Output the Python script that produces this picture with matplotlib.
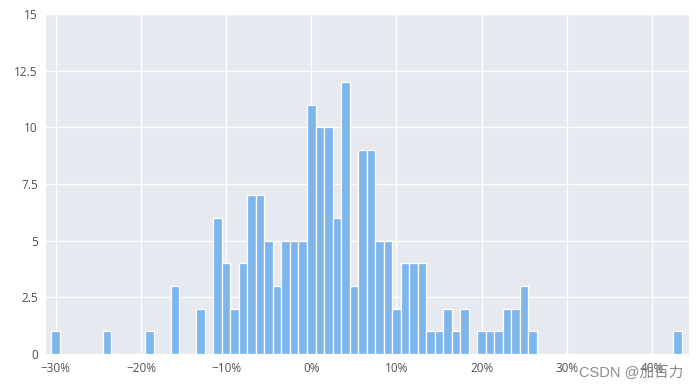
import matplotlib

matplotlib.use("Agg")
import matplotlib.pyplot as plt
from matplotlib.ticker import FuncFormatter

# bin centres (percent change) and counts
bin_centers = [
    -30, -24, -19, -16, -13,
    -11, -10, -9, -8, -7, -6, -5, -4, -3, -2, -1,
    0, 1, 2, 3, 4, 5, 6, 7, 8, 9,
    10, 11, 12, 13, 14, 15, 16, 17, 18,
    20, 21, 22, 23, 24, 25, 26,
    43,
]
counts = [
    1, 1, 1, 3, 2,
    6, 4, 2, 4, 7, 7, 5, 3, 5, 5, 5,
    11, 10, 10, 6, 12, 3, 9, 9, 5, 5,
    2, 4, 4, 4, 1, 1, 2, 1, 2,
    1, 1, 1, 2, 2, 3, 1,
    1,
]
x_ticks = [-30, -20, -10, 0, 10, 20, 30, 40]
y_ticks = [0, 2.5, 5, 7.5, 10, 12.5, 15]
y_tick_labels = ["0", "2.5", "5", "7.5", "10", "12.5", "15"]

plt.rcParams["font.family"] = ["Open Sans", "Noto Sans CJK SC", "DejaVu Sans"]

fig = plt.figure(figsize=(6.97, 3.90), dpi=100)
ax = fig.add_axes([0.066, 0.0923, 0.9225, 0.8717])
ax.set_facecolor("#E6EAF0")

ax.bar(bin_centers, counts, width=1.0, color="#7EB5EA",
       edgecolor="white", linewidth=0.9, zorder=3)

ax.set_xlim(-31.14, 44.34)
ax.set_ylim(0, 15)
ax.set_xticks(x_ticks)
ax.xaxis.set_major_formatter(FuncFormatter(lambda v, _: f"{int(v)}%".replace("-", "\u2212")))
ax.set_yticks(y_ticks)
ax.set_yticklabels(y_tick_labels)
ax.grid(color="white", linewidth=1.0, zorder=0)
ax.set_axisbelow(True)
for s in ax.spines.values():
    s.set_visible(False)
ax.tick_params(length=0, labelsize=8.5, labelcolor="#505050", pad=6)

# watermark, sits over the 40% label as in the source image
fig.text(0.98, 0.045, "CSDN @加百力", ha="right", va="center",
         fontsize=10.5, color="#8a8a8a",
         family=["Liberation Sans", "Noto Sans CJK SC", "DejaVu Sans"])

fig.savefig("out.png", dpi=100)
plt.close(fig)
